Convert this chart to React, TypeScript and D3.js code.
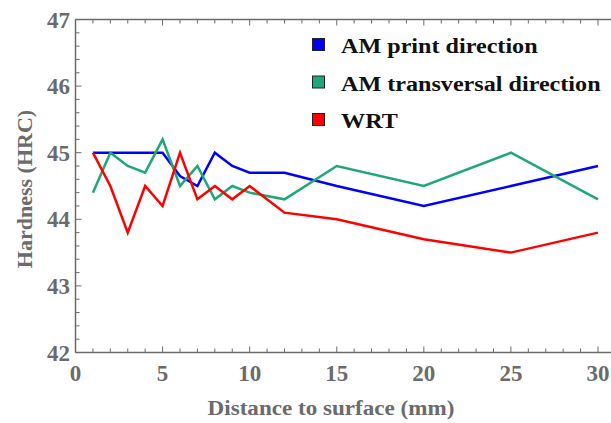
import React from "react";
import * as d3 from "d3";

const distances = [1, 2, 3, 4, 5, 6, 7, 8, 9, 10, 12, 15, 20, 25, 30];
const amPrint = [45, 45, 45, 45, 45, 44.65, 44.5, 45, 44.8, 44.7, 44.7, 44.5, 44.2, 44.5, 44.8];
const amTransversal = [44.4, 45, 44.8, 44.7, 45.2, 44.5, 44.8, 44.3, 44.5, 44.4, 44.3, 44.8, 44.5, 45, 44.3];
const wrt = [45, 44.5, 43.8, 44.5, 44.2, 45, 44.3, 44.5, 44.3, 44.5, 44.1, 44.0, 43.7, 43.5, 43.8];
const seriesNames = ["AM print direction", "AM transversal direction", "WRT"];
const seriesColors = ["#0000ff", "#1fa77a", "#ff0000"];
const xTicks = [0, 5, 10, 15, 20, 25, 30];
const yTicks = [42, 43, 44, 45, 46, 47];

export default function App() {
  const W = 611, H = 423;
  const left = 75.5, right = 598, top = 19.5, bottom = 352.5;
  const x = d3.scaleLinear().domain([0, 30]).range([left, right]);
  const y = d3.scaleLinear().domain([42, 47]).range([bottom, top]);
  const axisColor = "#6b6b6b";
  const font = "'Liberation Serif', 'Times New Roman', serif";
  const line = d3.line<number>().x((_, i) => x(distances[i])).y((v) => y(v));
  const all = [amPrint, amTransversal, wrt];

  const xMinor = d3.range(0, 31, 1);
  const yMinor = d3.range(42, 47.001, 0.2);

  return (
    <svg width={W} height={H} style={{ position: "absolute", left: 0, top: 0, background: "#fff" }}>
      <rect x={0} y={0} width={W} height={H} fill="#fff" />
      <line x1={left} x2={W} y1={bottom} y2={bottom} stroke={axisColor} strokeWidth={1.5} />
      <line x1={left} x2={W} y1={top} y2={top} stroke={axisColor} strokeWidth={1.5} />
      <line x1={left} x2={left} y1={top} y2={bottom} stroke={axisColor} strokeWidth={1.5} />
      {xMinor.map((t) => {
        const len = t % 5 === 0 ? 6 : 4;
        return (
          <g key={"xt" + t}>
            <line x1={x(t)} x2={x(t)} y1={bottom} y2={bottom - len} stroke={axisColor} strokeWidth={1} />
            <line x1={x(t)} x2={x(t)} y1={top} y2={top + len} stroke={axisColor} strokeWidth={1} />
          </g>
        );
      })}
      {yMinor.map((t, i) => {
        const len = i % 5 === 0 ? 6 : 4;
        return <line key={"yt" + i} x1={left} x2={left + len} y1={y(t)} y2={y(t)} stroke={axisColor} strokeWidth={1} />;
      })}
      {xTicks.map((t) => (
        <text key={"xl" + t} x={x(t)} y={381} textAnchor="middle" fontFamily={font} fontWeight="bold" fontSize={23} fill={axisColor}>
          {t}
        </text>
      ))}
      {yTicks.map((t) => (
        <text key={"yl" + t} x={70} y={y(t) + 8} textAnchor="end" fontFamily={font} fontWeight="bold" fontSize={23} fill={axisColor}>
          {t}
        </text>
      ))}
      <text transform="translate(331,415) scale(1.05,1)" textAnchor="middle" fontFamily={font} fontWeight="bold" fontSize={22} fill={axisColor}>
        Distance to surface (mm)
      </text>
      <text transform="translate(32,189) rotate(-90)" textAnchor="middle" fontFamily={font} fontWeight="bold" fontSize={22} fill={axisColor}>
        Hardness (HRC)
      </text>
      {all.map((vals, i) => (
        <path key={"s" + i} d={line(vals) || ""} fill="none" stroke={seriesColors[i]} strokeWidth={2.5} strokeLinejoin="miter" />
      ))}
      {seriesNames.map((n, i) => (
        <g key={"lg" + i}>
          <rect x={312.5} y={38.5 + i * 37.5} width={12} height={12} fill={seriesColors[i]} stroke="#222" strokeWidth={1} />
          <text transform={`translate(341,${53.3 + i * 37.3}) scale(1.15,1)`} fontFamily={font} fontWeight="bold" fontSize={21} fill="#111">
            {n}
          </text>
        </g>
      ))}
    </svg>
  );
}
